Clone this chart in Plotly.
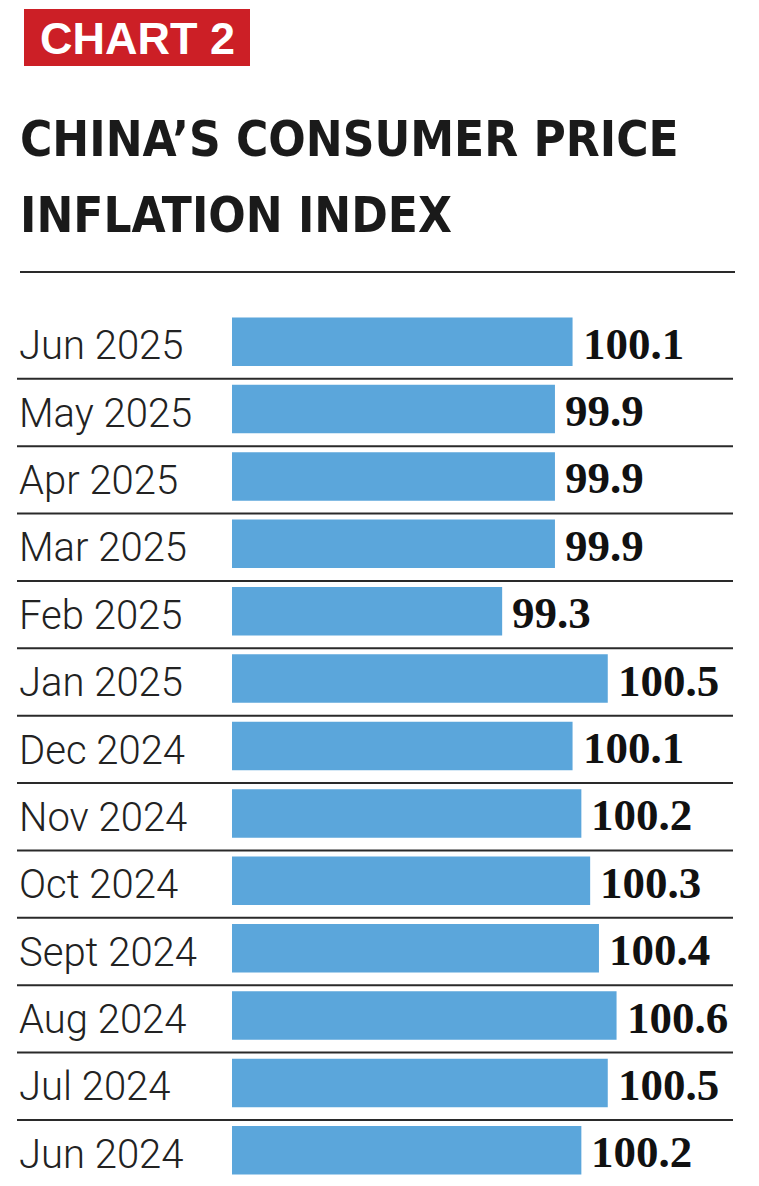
import plotly.graph_objects as go

categories = ["Jun 2025", "May 2025", "Apr 2025", "Mar 2025", "Feb 2025", "Jan 2025",
              "Dec 2024", "Nov 2024", "Oct 2024", "Sept 2024", "Aug 2024", "Jul 2024", "Jun 2024"]
values = [100.1, 99.9, 99.9, 99.9, 99.3, 100.5, 100.1, 100.2, 100.3, 100.4, 100.6, 100.5, 100.2]
value_labels = ["100.1", "99.9", "99.9", "99.9", "99.3", "100.5", "100.1", "100.2",
                "100.3", "100.4", "100.6", "100.5", "100.2"]

# The page body has an 8px margin, so the figure is sized/offset to compensate
OFF = 8
W, H = 759 - OFF, 1186 - OFF
ML, MR, MT, MB = 232 - OFF, 0, 308 - OFF, 10 - OFF
PW = W - ML - MR
PH = H - MT - MB
PX_PER_UNIT = 88.0
X0 = 96.23


def px_x(p):
    return (p - OFF - ML) / PW


def px_y(p):
    return (H - MB - (p - OFF)) / PH


BAR_COLOR = "#5BA6DB"
RULE = "#2a2a2a"

fig = go.Figure()
fig.add_trace(go.Bar(
    y=categories, x=values, orientation="h",
    marker=dict(color=BAR_COLOR, line=dict(width=0)),
    hoverinfo="skip", showlegend=False,
))

shapes = []
# red badge
shapes.append(dict(type="rect", xref="paper", yref="paper",
                   x0=px_x(24), x1=px_x(250), y0=px_y(66), y1=px_y(9),
                   fillcolor="#CC1F26", line=dict(width=0), layer="above"))
# rule under title
shapes.append(dict(type="line", xref="paper", yref="paper",
                   x0=px_x(20), x1=px_x(735), y0=px_y(272), y1=px_y(272),
                   line=dict(color=RULE, width=2)))
# row separators
for i in range(len(categories) - 1):
    shapes.append(dict(type="line", xref="paper", yref="y",
                       x0=px_x(17), x1=px_x(733), y0=i + 0.55, y1=i + 0.55,
                       line=dict(color=RULE, width=2), layer="below"))

annotations = []
annotations.append(dict(text="CHART 2", xref="paper", yref="paper",
                        x=px_x(137), y=px_y(38), xanchor="center", yanchor="middle",
                        showarrow=False,
                        font=dict(family="Liberation Sans, Arial, sans-serif", size=45,
                                  color="white", weight="bold")))
title_font = dict(family="Liberation Sans Narrow, Arial Narrow, DejaVu Sans Condensed, sans-serif",
                  size=49, color="#1a1a1a", weight="bold")
annotations.append(dict(text="CHINA’S CONSUMER PRICE", xref="paper", yref="paper",
                        x=px_x(18), y=px_y(140), xanchor="left", yanchor="middle",
                        showarrow=False, font=title_font))
annotations.append(dict(text="INFLATION INDEX", xref="paper", yref="paper",
                        x=px_x(18), y=px_y(216), xanchor="left", yanchor="middle",
                        showarrow=False, font=title_font))

for c in categories:
    annotations.append(dict(text=c, xref="paper", yref="y",
                            x=px_x(17), y=c, xanchor="left", yanchor="middle",
                            yshift=-4, showarrow=False,
                            font=dict(family="Roboto, Liberation Sans, Arial, sans-serif",
                                      size=40, color="#222222", weight=300)))
for c, v, t in zip(categories, values, value_labels):
    annotations.append(dict(text=t, xref="x", yref="y",
                            x=v, y=c, xanchor="left", yanchor="middle",
                            xshift=8, yshift=-2, showarrow=False,
                            font=dict(family="Liberation Serif, Times New Roman, serif",
                                      size=45, color="#111111", weight="bold")))

fig.update_layout(
    width=W, height=H,
    margin=dict(l=ML, r=MR, t=MT, b=MB, pad=0),
    paper_bgcolor="white", plot_bgcolor="white",
    bargap=0.28,
    xaxis=dict(range=[X0, X0 + PW / PX_PER_UNIT], visible=False, fixedrange=True),
    yaxis=dict(type="category", categoryorder="array", categoryarray=categories,
               range=[len(categories) - 0.5, -0.5], visible=False, fixedrange=True),
    shapes=shapes, annotations=annotations,
)

fig.write_html("out.html")
